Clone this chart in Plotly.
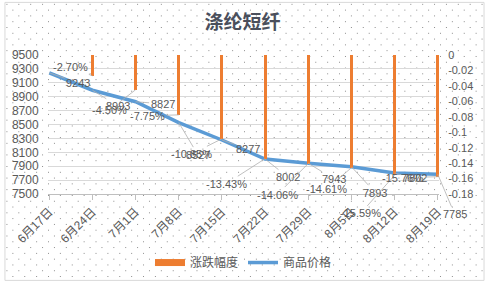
import base64
import plotly.graph_objects as go

# ---- data ----
dates = ["6月17日", "6月24日", "7月1日", "7月8日", "7月15日", "7月22日",
         "7月29日", "8月5日", "8月12日", "8月19日"]
price = [9243, 8993, 8827, 8527, 8277, 8002, 7943, 7893, 7802, 7785]
change = [None, -0.0270, -0.0450, -0.0775, -0.1085, -0.1343, -0.1406,
          -0.1461, -0.1559, -0.1576]
price_ticks = [7500, 7700, 7900, 8100, 8300, 8500, 8700, 8900, 9100, 9300, 9500]
pct_ticks = [0, -0.02, -0.04, -0.06, -0.08, -0.1, -0.12, -0.14, -0.16, -0.18]

# label offsets (pixels) relative to their points, like Excel callouts
price_off = [(29, 10), (26, 16), (27, 2), (19, 32), (26, 9), (23, 18),
             (26, 16), (24, 26), (20, 5), (17, 40)]
pct_off = [None, (-22, -9), (-26, 20), (-31, 1), (-30, 15), (-39, 25),
           (-31, 31), (-25, 21), (-34, 38), (-35, 1)]

W, H = 485, 289
L, R, T, B = 44, 46, 55, 90
PW, PH = W - L - R, H - T - B

FONT = "Liberation Sans, Noto Sans CJK SC, sans-serif"
TXT = "#595959"
ORANGE = "#ED7D31"
BLUE = "#5B9BD5"

xs = list(range(len(dates)))

fig = go.Figure()
fig.add_trace(go.Bar(x=xs, y=change, name="涨跌幅度", yaxis="y2",
                     marker=dict(color=ORANGE, line=dict(width=0)),
                     width=0.07, base=0, showlegend=False, legendgroup="chg"))
# legend proxy giving the wide Excel-like swatch for the bar series
fig.add_trace(go.Scatter(x=[None], y=[None], name="涨跌幅度", mode="lines",
                         line=dict(color=ORANGE, width=7), legendgroup="chg",
                         yaxis="y2"))
fig.add_trace(go.Scatter(x=xs, y=price, name="商品价格", mode="lines",
                         line=dict(color=BLUE, width=3.5)))

ann = []
for i, v in enumerate(price):
    ax, ay = price_off[i]
    ann.append(dict(x=i, y=v, xref="x", yref="y", text=str(v), showarrow=True,
                    ax=ax, ay=ay, arrowhead=0, arrowwidth=0.8,
                    arrowcolor="#b0b0b0", standoff=0,
                    font=dict(size=11, color=TXT, family=FONT)))
for i, v in enumerate(change):
    if v is None:
        continue
    ax, ay = pct_off[i]
    ann.append(dict(x=i, y=v, xref="x", yref="y2", text=f"{v*100:.2f}%",
                    showarrow=True, ax=ax, ay=ay, arrowhead=0, arrowwidth=0.8,
                    arrowcolor="#b0b0b0", standoff=0,
                    font=dict(size=11, color=TXT, family=FONT)))

# dotted pattern background (Excel-like pattern fill)
svg = ('<svg xmlns="http://www.w3.org/2000/svg" width="485" height="289" '
       'viewBox="0 0 485 289" preserveAspectRatio="none">'
       '<defs><pattern id="p" width="12" height="12" patternUnits="userSpaceOnUse">'
       '<rect x="2" y="2" width="1" height="1" fill="#8a8a8a"/>'
       '<rect x="8" y="8" width="1" height="1" fill="#8a8a8a"/>'
       '</pattern></defs>'
       '<rect width="485" height="289" fill="#ffffff"/>'
       '<rect width="485" height="289" fill="url(#p)"/></svg>')
src = "data:image/svg+xml;base64," + base64.b64encode(svg.encode()).decode()

px0 = -L / PW
py1 = 1 + T / PH
images = [dict(source=src, xref="paper", yref="paper", x=px0, y=py1,
               sizex=W / PW, sizey=H / PH, sizing="stretch",
               xanchor="left", yanchor="top", layer="below")]

shapes = [dict(type="rect", xref="paper", yref="paper",
               x0=px0 + 0.5 / PW, x1=px0 + (W - 0.5) / PW,
               y0=py1 - (H - 0.5) / PH, y1=py1 - 0.5 / PH,
               line=dict(color="#d9d9d9", width=1))]

fig.update_layout(
    width=W, height=H,
    margin=dict(l=L, r=R, t=T, b=B),
    paper_bgcolor="white", plot_bgcolor="rgba(0,0,0,0)",
    images=images, shapes=shapes, annotations=ann,
    title=dict(text="<b>涤纶短纤</b>", x=0.5, xref="container", xanchor="center",
               y=1 - 22 / H, yref="container", yanchor="middle",
               font=dict(size=19, color="#4a4f5c",
                         family="Noto Sans CJK SC, sans-serif")),
    xaxis=dict(range=[-0.03, len(dates) - 1 + 0.03], tickvals=xs, ticktext=dates,
               tickangle=-45, showgrid=False, zeroline=False,
               showline=True, linecolor="#bfbfbf", linewidth=1,
               ticks="outside", ticklen=5, tickcolor="#bfbfbf",
               tickfont=dict(size=12, color=TXT, family=FONT)),
    yaxis=dict(range=[7500, 9500], tickvals=price_ticks,
               ticktext=[str(t) for t in price_ticks],
               showgrid=True, gridcolor="#d9d9d9", gridwidth=1, zeroline=False,
               showline=False, ticks="outside", ticklen=6,
               tickcolor="rgba(0,0,0,0)",
               tickfont=dict(size=12, color=TXT, family=FONT)),
    yaxis2=dict(range=[-0.18, 0], overlaying="y", side="right",
                tickvals=pct_ticks, ticktext=[f"{t:g}" for t in pct_ticks],
                showgrid=False, zeroline=False, showline=False,
                ticks="outside", ticklen=6, tickcolor="rgba(0,0,0,0)",
                tickfont=dict(size=11, color=TXT, family=FONT)),
    showlegend=True,
    legend=dict(orientation="h", x=0.5, xanchor="center",
                y=(PH - (270 - T)) / PH, yanchor="middle",
                bgcolor="rgba(0,0,0,0)", font=dict(size=12, color=TXT, family=FONT),
                itemwidth=30, traceorder="normal"),
    bargap=0,
)

fig.write_html("out.html")
